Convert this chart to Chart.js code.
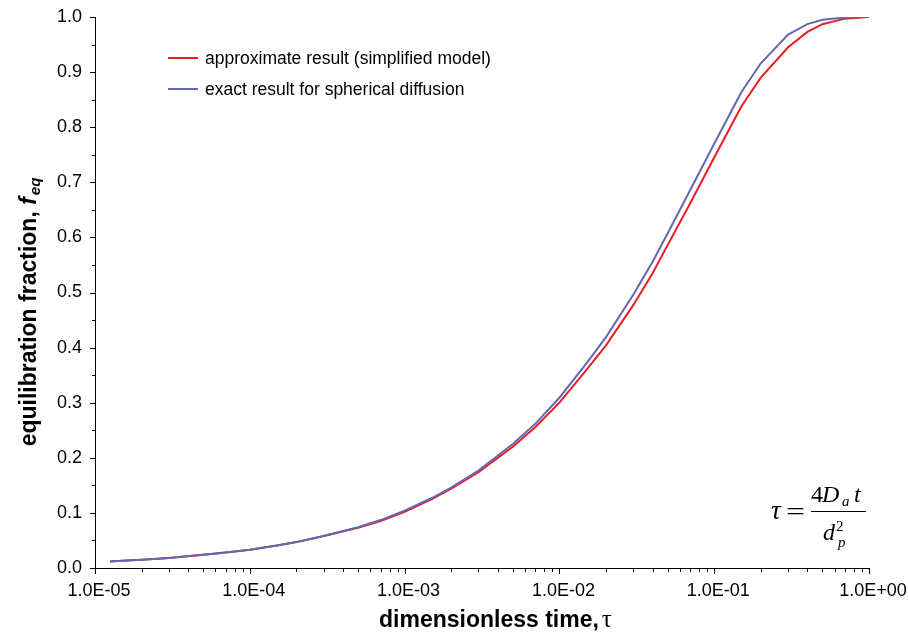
<!DOCTYPE html>
<html>
<head>
<meta charset="utf-8">
<script src="https://cdn.jsdelivr.net/npm/chart.js@4.4.1/dist/chart.umd.min.js"></script>
<style>
  html, body { margin: 0; padding: 0; background: #fff; }
  #wrap { width: 908px; height: 637px; position: relative; }
</style>
</head>
<body>
<div id="wrap"><canvas id="c" width="908" height="637"></canvas></div>
<script>
// ---- data ----
const tauValues = [1.25e-5, 1.5e-5, 2e-5, 3e-5, 5e-5, 7e-5, 1e-4, 1.5e-4, 2e-4, 3e-4, 5e-4, 7e-4,
  1e-3, 1.5e-3, 2e-3, 3e-3, 5e-3, 7e-3, 1e-2, 1.5e-2, 2e-2, 3e-2, 4e-2, 5e-2, 7e-2,
  0.1, 0.15, 0.2, 0.3, 0.4, 0.5, 0.7, 1.0];
const approxValues = [0.012, 0.013, 0.015, 0.018, 0.024, 0.028, 0.033, 0.041, 0.047, 0.058, 0.073, 0.085,
  0.102, 0.125, 0.144, 0.174, 0.220, 0.256, 0.300, 0.360, 0.404, 0.477, 0.535, 0.586, 0.662,
  0.745, 0.838, 0.890, 0.945, 0.973, 0.987, 0.997, 1.000];
const exactValues = [0.012, 0.013, 0.015, 0.018, 0.024, 0.028, 0.033, 0.041, 0.047, 0.058, 0.074, 0.087,
  0.104, 0.127, 0.146, 0.177, 0.225, 0.262, 0.309, 0.372, 0.419, 0.496, 0.556, 0.607, 0.686,
  0.770, 0.864, 0.916, 0.968, 0.987, 0.995, 0.999, 1.000];
const seriesNames = ['approximate result (simplified model)', 'exact result for spherical diffusion'];
const xTickValues = [1e-5, 1e-4, 1e-3, 1e-2, 1e-1, 1];
const yTickValues = [0, 0.1, 0.2, 0.3, 0.4, 0.5, 0.6, 0.7, 0.8, 0.9, 1.0];
const xTitle = 'dimensionless time,';
const xTitleSymbol = '\u03C4';
const yTitle = 'equilibration fraction, ';
const yTitleSymbol = 'f';
const yTitleSub = 'eq';

const RED = '#ec1c24';
const BLUE = '#6268b2';
const SANS = '"Liberation Sans", Arial, sans-serif';
const SERIF = '"Liberation Serif", "Times New Roman", serif';

function fmtSci(v) {
  const e = Math.round(Math.log10(v));
  const m = v / Math.pow(10, e);
  const sign = e < 0 ? '-' : '+';
  const a = Math.abs(e);
  return m.toFixed(1) + 'E' + sign + (a < 10 ? '0' + a : '' + a);
}

const toPts = (ys) => tauValues.map((t, i) => ({ x: t, y: ys[i] }));

function zeroPad(scale) {
  scale.paddingTop = 0; scale.paddingBottom = 0;
  scale.paddingLeft = 0; scale.paddingRight = 0;
}

const decorPlugin = {
  id: 'decor',
  afterDraw(chart) {
    const ctx = chart.ctx;
    const xs = chart.scales.x, ys = chart.scales.y;
    const ca = chart.chartArea;
    ctx.save();
    ctx.strokeStyle = '#000';
    ctx.lineWidth = 1;
    // axis lines
    ctx.beginPath();
    ctx.moveTo(ca.left + 0.5, ca.top);
    ctx.lineTo(ca.left + 0.5, ca.bottom + 0.5);
    ctx.lineTo(ca.right, ca.bottom + 0.5);
    ctx.stroke();
    // x tick marks (major + minor)
    ctx.beginPath();
    for (let d = 0; d < xTickValues.length; d++) {
      const base = xTickValues[d];
      const px = Math.round(xs.getPixelForValue(base)) + 0.5;
      ctx.moveTo(px, ca.bottom); ctx.lineTo(px, ca.bottom + 6);
      if (d < xTickValues.length - 1) {
        for (let k = 2; k <= 9; k++) {
          const p = Math.round(xs.getPixelForValue(base * k)) + 0.5;
          ctx.moveTo(p, ca.bottom); ctx.lineTo(p, ca.bottom + 4);
        }
      }
    }
    // y tick marks
    for (let i = 0; i < yTickValues.length; i++) {
      const py = Math.round(ys.getPixelForValue(yTickValues[i])) + 0.5;
      ctx.moveTo(ca.left, py); ctx.lineTo(ca.left - 5, py);
      if (i < yTickValues.length - 1) {
        const pm = Math.round(ys.getPixelForValue(yTickValues[i] + 0.05)) + 0.5;
        ctx.moveTo(ca.left, pm); ctx.lineTo(ca.left - 3, pm);
      }
    }
    ctx.stroke();

    // x title
    ctx.fillStyle = '#000';
    ctx.textBaseline = 'alphabetic';
    ctx.textAlign = 'left';
    ctx.font = 'bold 23px ' + SANS;
    const w1 = ctx.measureText(xTitle).width;
    ctx.fillText(xTitle, 379, 627);
    ctx.font = '25px ' + SERIF;
    ctx.fillText(xTitleSymbol, 379 + w1 + 3, 627);

    // y title (rotated)
    ctx.save();
    ctx.translate(36, 312);
    ctx.rotate(-Math.PI / 2);
    ctx.font = 'bold 23px ' + SANS;
    const a1 = ctx.measureText(yTitle).width;
    ctx.font = 'italic bold 23px ' + SANS;
    const a2 = ctx.measureText(yTitleSymbol).width;
    ctx.font = 'italic bold 15px ' + SANS;
    const a3 = ctx.measureText(yTitleSub).width;
    let s = -(a1 + a2 + a3 + 2) / 2;
    ctx.font = 'bold 23px ' + SANS;
    ctx.fillText(yTitle, s, 0);
    ctx.font = 'italic bold 23px ' + SANS;
    ctx.fillText(yTitleSymbol, s + a1, 0);
    ctx.font = 'italic bold 15px ' + SANS;
    ctx.fillText(yTitleSub, s + a1 + a2 + 2, 4);
    ctx.restore();

    // legend
    const ds = chart.data.datasets;
    const legendOrder = [0, 1];
    ctx.font = '17.5px ' + SANS;
    ctx.textBaseline = 'middle';
    legendOrder.forEach((di, i) => {
      const y = 58 + i * 31;
      ctx.strokeStyle = ds[di].borderColor;
      ctx.lineWidth = 2;
      ctx.beginPath();
      ctx.moveTo(168, y); ctx.lineTo(198, y);
      ctx.stroke();
      ctx.fillStyle = '#000';
      ctx.fillText(ds[di].label, 205, y + 1);
    });

    // formula tau = 4 D_a t / d_p^2
    ctx.fillStyle = '#000';
    ctx.strokeStyle = '#000';
    ctx.textBaseline = 'alphabetic';
    ctx.font = 'italic 27px ' + SERIF;
    ctx.fillText('\u03C4', 771, 519);
    ctx.save();
    ctx.translate(786, 520);
    ctx.scale(1.35, 1);
    ctx.font = '25px ' + SERIF;
    ctx.fillText('=', 0, 0);
    ctx.restore();
    ctx.lineWidth = 1;
    ctx.beginPath();
    ctx.moveTo(811, 511.5); ctx.lineTo(866, 511.5);
    ctx.stroke();
    ctx.font = '24px ' + SERIF;
    ctx.fillText('4', 811, 502);
    ctx.font = 'italic 24px ' + SERIF;
    ctx.fillText('D', 822, 502);
    ctx.font = 'italic 15px ' + SERIF;
    ctx.fillText('a', 842, 506);
    ctx.font = 'italic 24px ' + SERIF;
    ctx.fillText('t', 854, 502);
    ctx.font = 'italic 24px ' + SERIF;
    ctx.fillText('d', 823, 540);
    ctx.font = '15px ' + SERIF;
    ctx.fillText('2', 836, 531);
    ctx.font = 'italic 15px ' + SERIF;
    ctx.fillText('p', 838, 547);
    ctx.restore();
  }
};

new Chart(document.getElementById('c'), {
  type: 'line',
  data: {
    datasets: [
      { label: seriesNames[0], data: toPts(approxValues), borderColor: RED, backgroundColor: RED,
        borderWidth: 2, pointRadius: 0, tension: 0, fill: false, order: 1 },
      { label: seriesNames[1], data: toPts(exactValues), borderColor: BLUE, backgroundColor: BLUE,
        borderWidth: 2, pointRadius: 0, tension: 0, fill: false, order: 0 }
    ]
  },
  options: {
    responsive: false,
    animation: false,
    devicePixelRatio: 1,
    layout: { padding: { top: 17, right: 39, left: 0, bottom: 0 } },
    plugins: { legend: { display: false }, tooltip: { enabled: false } },
    scales: {
      x: {
        type: 'logarithmic',
        min: 1e-5, max: 1,
        grid: { display: false, drawTicks: false },
        border: { display: false },
        afterBuildTicks: (scale) => { scale.ticks = xTickValues.map(v => ({ value: v, major: true })); },
        afterFit: (scale) => { scale.height = 69; zeroPad(scale); },
        ticks: {
          autoSkip: false, maxRotation: 0, padding: 12, labelOffset: 4,
          color: '#000', font: { family: SANS, size: 18 },
          callback: (v) => fmtSci(v)
        }
      },
      y: {
        type: 'linear',
        min: 0, max: 1,
        grid: { display: false, drawTicks: false },
        border: { display: false },
        afterBuildTicks: (scale) => { scale.ticks = yTickValues.map(v => ({ value: v })); },
        afterFit: (scale) => { scale.width = 95; zeroPad(scale); },
        ticks: {
          autoSkip: false, padding: 13,
          color: '#000', font: { family: SANS, size: 18 },
          callback: (v) => Number(v).toFixed(1)
        }
      }
    }
  },
  plugins: [decorPlugin]
});
</script>
</body>
</html>
